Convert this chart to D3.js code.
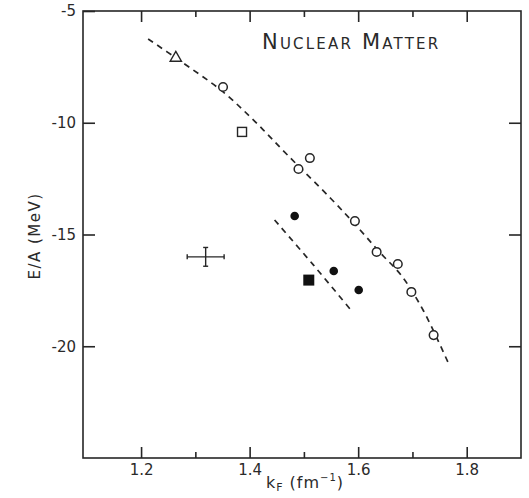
<!DOCTYPE html>
<html>
<head>
<meta charset="utf-8">
<script src="https://cdn.jsdelivr.net/npm/d3@7"></script>
<style>
  body { margin: 0; background: #fff; }
  svg text { font-family: "DejaVu Sans", sans-serif; fill: #2a2a2a; }
</style>
</head>
<body>
<div id="chart"></div>
<script>
// open circles (calculations)
var openK = [1.351, 1.490, 1.511, 1.594, 1.634, 1.673, 1.698, 1.739];
var openE = [-8.40, -12.07, -11.58, -14.40, -15.78, -16.32, -17.57, -19.50];
// filled circles
var fillK = [1.483, 1.555, 1.601];
var fillE = [-14.17, -16.63, -17.48];
// single markers
var triK = 1.264, triE = -7.10;
var sqK = 1.386, sqE = -10.41;
var fsqK = 1.509, fsqE = -17.04;
// empirical point with error bars
var empK = 1.319, empE = -16.0, empDK = 0.034, empDE = 0.42;
// upper dashed curve
var curveK = [1.213, 1.27, 1.35, 1.41, 1.47, 1.55, 1.60, 1.64, 1.68, 1.72, 1.767];
var curveE = [-6.25, -7.2, -8.6, -9.95, -11.45, -13.4, -14.7, -15.8, -16.85, -18.4, -20.8];
// lower dashed line
var lowK = [1.446, 1.517, 1.588];
var lowE = [-14.35, -16.35, -18.42];
// ticks
var xMajor = [1.2, 1.4, 1.6, 1.8];
var xMinor = [1.3, 1.5, 1.7];
var yTicks = [-5, -10, -15, -20];

var svgWidth = 529, svgHeight = 498;
var margin = {top: 11, left: 83};
var width = 438, height = 447;

var svg = d3.select("#chart").append("svg")
    .attr("width", svgWidth)
    .attr("height", svgHeight);

var g = svg.append("g")
    .attr("transform", `translate(${margin.left}, ${margin.top})`);

var x = d3.scaleLinear().domain([1.093, 1.9]).range([0, width]);
var y = d3.scaleLinear().domain([-25, -5]).range([height, 0]);

var ink = "#262626";

// frame
g.append("rect")
    .attr("width", width).attr("height", height)
    .attr("fill", "none").attr("stroke", ink).attr("stroke-width", 1.6);

function styleAxis(sel) {
    sel.select(".domain").remove();
    sel.selectAll("line").attr("stroke", ink).attr("stroke-width", 1.6);
    sel.selectAll("text").attr("font-size", "15px").attr("fill", "#2a2a2a");
}

// axes
g.append("g")
    .attr("transform", `translate(0, ${height})`)
    .call(d3.axisBottom(x).tickValues(xMajor).tickSize(-11).tickPadding(6).tickFormat(d3.format(".1f")))
    .call(styleAxis);
g.append("g")
    .attr("transform", `translate(0, ${height})`)
    .call(d3.axisBottom(x).tickValues(xMinor).tickSize(-6).tickFormat(""))
    .call(styleAxis);
g.append("g")
    .call(d3.axisTop(x).tickValues(xMajor).tickSize(-11).tickFormat(""))
    .call(styleAxis);
g.append("g")
    .call(d3.axisTop(x).tickValues(xMinor).tickSize(-6).tickFormat(""))
    .call(styleAxis);
g.append("g")
    .call(d3.axisLeft(y).tickValues(yTicks).tickSize(-12).tickPadding(7).tickFormat(d => String(d)))
    .call(styleAxis);
g.append("g")
    .attr("transform", `translate(${width}, 0)`)
    .call(d3.axisRight(y).tickValues(yTicks.slice(1)).tickSize(-12).tickFormat(""))
    .call(styleAxis);

// dashed curves
var line = d3.line().curve(d3.curveCatmullRom).x(d => x(d[0])).y(d => y(d[1]));
g.append("path")
    .datum(d3.zip(curveK, curveE))
    .attr("d", line)
    .attr("fill", "none").attr("stroke", ink).attr("stroke-width", 1.7)
    .attr("stroke-dasharray", "6,5");
g.append("path")
    .datum(d3.zip(lowK, lowE))
    .attr("d", line)
    .attr("fill", "none").attr("stroke", ink).attr("stroke-width", 1.7)
    .attr("stroke-dasharray", "6,5");

// open circles
g.selectAll(".open").data(d3.zip(openK, openE)).enter()
    .append("circle")
    .attr("cx", d => x(d[0])).attr("cy", d => y(d[1]))
    .attr("r", 4.3)
    .attr("fill", "#fff").attr("stroke", ink).attr("stroke-width", 1.5);

// filled circles
g.selectAll(".filled").data(d3.zip(fillK, fillE)).enter()
    .append("circle")
    .attr("cx", d => x(d[0])).attr("cy", d => y(d[1]))
    .attr("r", 4.3)
    .attr("fill", "#111");

// open triangle
g.append("path")
    .attr("transform", `translate(${x(triK)}, ${y(triE)})`)
    .attr("d", d3.symbol(d3.symbolTriangle, 55))
    .attr("fill", "#fff").attr("stroke", ink).attr("stroke-width", 1.4);

// open square
g.append("rect")
    .attr("x", x(sqK) - 4.5).attr("y", y(sqE) - 4.5)
    .attr("width", 9).attr("height", 9)
    .attr("fill", "#fff").attr("stroke", ink).attr("stroke-width", 1.4);

// filled square
g.append("rect")
    .attr("x", x(fsqK) - 5.5).attr("y", y(fsqE) - 5.5)
    .attr("width", 11).attr("height", 11)
    .attr("fill", "#111");

// empirical point with error bars
var eb = g.append("g").attr("stroke", ink).attr("stroke-width", 1.4);
eb.append("line")
    .attr("x1", x(empK - empDK)).attr("x2", x(empK + empDK))
    .attr("y1", y(empE)).attr("y2", y(empE));
eb.append("line")
    .attr("x1", x(empK)).attr("x2", x(empK))
    .attr("y1", y(empE - empDE)).attr("y2", y(empE + empDE));
[empK - empDK, empK + empDK].forEach(function(k) {
    eb.append("line").attr("x1", x(k)).attr("x2", x(k))
        .attr("y1", y(empE) - 2.5).attr("y2", y(empE) + 2.5);
});
[empE - empDE, empE + empDE].forEach(function(e) {
    eb.append("line").attr("x1", x(empK) - 2.5).attr("x2", x(empK) + 2.5)
        .attr("y1", y(e)).attr("y2", y(e));
});

// title
svg.append("text")
    .attr("x", 262).attr("y", 49)
    .attr("font-size", "21px")
    .attr("font-variant", "small-caps")
    .attr("letter-spacing", "2.2px")
    .text("Nuclear Matter");

// x label
var xl = svg.append("text")
    .attr("x", 305).attr("y", 488)
    .attr("text-anchor", "middle")
    .attr("font-size", "16px")
    .attr("letter-spacing", "1px");
xl.append("tspan").text("k");
xl.append("tspan").attr("font-size", "11px").attr("dy", 3).text("F");
xl.append("tspan").attr("dy", -3).text(" (fm");
xl.append("tspan").attr("font-size", "10px").attr("dy", -7).text("−1");
xl.append("tspan").attr("dy", 7).text(")");

// y label
svg.append("text")
    .attr("transform", "translate(40, 236) rotate(-90)")
    .attr("text-anchor", "middle")
    .attr("font-size", "15px")
    .attr("letter-spacing", "1.5px")
    .text("E/A (MeV)");
</script>
</body>
</html>
